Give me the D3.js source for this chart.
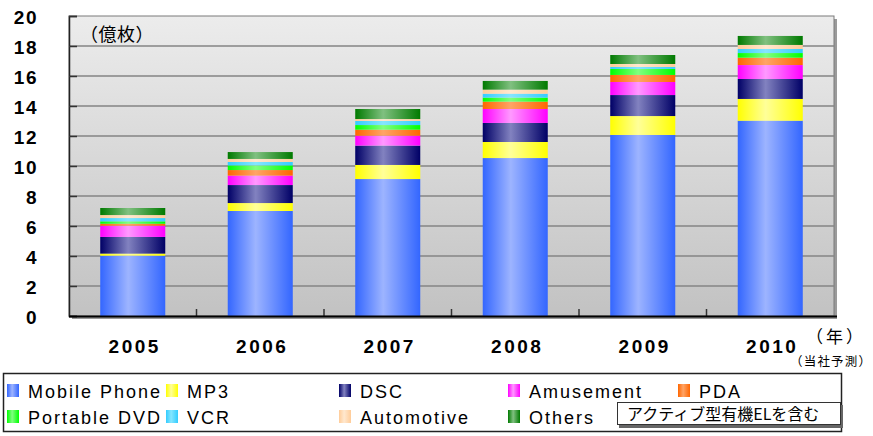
<!DOCTYPE html>
<meta charset="utf-8">
<script src="https://cdn.jsdelivr.net/npm/d3@7"></script>
<style>
    body { margin: 0; background: #fff; }
    text { font-family: "Liberation Sans", Arial, "Noto Sans CJK JP", sans-serif; }
    .jp { font-family: "Noto Sans CJK JP", sans-serif; }
</style>
<div id="chart"></div>
<script>
    // values (億枚)
    var years = ["2005", "2006", "2007", "2008", "2009", "2010"];
    var seriesNames = ["Mobile Phone", "MP3", "DSC", "Amusement", "PDA", "Portable DVD", "VCR", "Automotive", "Others"];
    var mobilePhone = [4.02, 7.0, 9.13, 10.53, 12.07, 13.02];
    var mp3 = [0.14, 0.53, 0.94, 1.07, 1.26, 1.45];
    var dsc = [1.11, 1.2, 1.29, 1.27, 1.4, 1.33];
    var amusement = [0.75, 0.63, 0.66, 0.93, 0.87, 0.93];
    var pda = [0.13, 0.37, 0.4, 0.49, 0.47, 0.49];
    var portableDvd = [0.16, 0.31, 0.31, 0.27, 0.4, 0.31];
    var vcr = [0.22, 0.23, 0.27, 0.26, 0.13, 0.27];
    var automotive = [0.2, 0.2, 0.13, 0.27, 0.2, 0.27];
    var others = [0.47, 0.46, 0.67, 0.58, 0.6, 0.6];
    var yTicks = [0, 2, 4, 6, 8, 10, 12, 14, 16, 18, 20];

    var seriesValues = [mobilePhone, mp3, dsc, amusement, pda, portableDvd, vcr, automotive, others];
    // edge colour, centre colour
    var colors = [
        ["#3366ff", "#9db4ff"], ["#ffff00", "#ffff99"], ["#000066", "#8282c0"],
        ["#ff00ff", "#ff99ff"], ["#ff6600", "#ffa466"], ["#00ff00", "#80ff80"],
        ["#33ccff", "#85e6ff"], ["#ffcc99", "#ffe8cf"], ["#007a00", "#80c080"]
    ];

    var rows = years.map(function(yr, i) {
        var r = { year: yr };
        seriesNames.forEach(function(s, j) { r[s] = seriesValues[j][i]; });
        return r;
    });

    var W = 873, H = 436;
    var plotLeft = 69, plotRight = 834, plotTop = 16, plotBottom = 316;

    var svg = d3.select("#chart").append("svg")
        .attr("width", W).attr("height", H);

    var defs = svg.append("defs");
    var bg = defs.append("linearGradient").attr("id", "bg")
        .attr("x1", 0).attr("y1", 0).attr("x2", 0).attr("y2", 1);
    bg.append("stop").attr("offset", 0).attr("stop-color", "#ececec");
    bg.append("stop").attr("offset", 1).attr("stop-color", "#c2c2c2");

    colors.forEach(function(c, i) {
        var g = defs.append("linearGradient").attr("id", "g" + i)
            .attr("x1", 0).attr("y1", 0).attr("x2", 1).attr("y2", 0);
        g.append("stop").attr("offset", 0).attr("stop-color", c[0]);
        g.append("stop").attr("offset", 0.43).attr("stop-color", c[1]);
        g.append("stop").attr("offset", 1).attr("stop-color", c[0]);
    });

    var x = d3.scaleBand().domain(years).range([plotLeft, plotRight])
        .paddingInner(0.49).paddingOuter(0.245);
    var y = d3.scaleLinear().domain([0, 20]).range([plotBottom, plotTop]);

    // plot area with shadow
    svg.append("rect").attr("x", plotLeft + 3).attr("y", plotTop + 3)
        .attr("width", plotRight - plotLeft).attr("height", plotBottom - plotTop)
        .attr("fill", "#9a9a9a");
    svg.append("rect").attr("x", plotLeft).attr("y", plotTop)
        .attr("width", plotRight - plotLeft).attr("height", plotBottom - plotTop)
        .attr("fill", "url(#bg)").attr("stroke", "#7a7a7a").attr("stroke-width", 1);

    // gridlines
    svg.append("g").selectAll("line")
        .data(yTicks.filter(function(d) { return d > 0 && d < 20; }))
        .enter().append("line")
        .attr("x1", plotLeft).attr("x2", plotRight)
        .attr("y1", function(d) { return y(d); })
        .attr("y2", function(d) { return y(d); })
        .attr("stroke", "#858585").attr("stroke-width", 1.5);

    // y axis
    var yAxis = svg.append("g").attr("transform", "translate(" + plotLeft + ",0)")
        .call(d3.axisLeft(y).tickValues(yTicks).tickSize(-8).tickPadding(31));
    yAxis.select(".domain").attr("stroke", "#222").attr("stroke-width", 1.5);
    yAxis.selectAll(".tick line").attr("stroke", "#333").attr("stroke-width", 1.5);
    yAxis.selectAll("text")
        .attr("font-family", "'Liberation Sans', Arial, sans-serif")
        .attr("font-size", 19).attr("font-weight", "bold")
        .attr("letter-spacing", "1.5px").attr("fill", "#000")
        .attr("dy", "0.38em");

    // stacked bars
    var stack = d3.stack().keys(seriesNames)(rows);
    svg.append("g").selectAll("g")
        .data(stack).enter().append("g")
        .attr("fill", function(d, i) { return "url(#g" + i + ")"; })
        .selectAll("rect")
        .data(function(d) { return d; })
        .enter().append("rect")
        .attr("x", function(d) { return x(d.data.year); })
        .attr("width", x.bandwidth())
        .attr("y", function(d) { return y(d[1]); })
        .attr("height", function(d) { return y(d[0]) - y(d[1]); });

    // baseline and category separators
    var step = x.step();
    svg.append("g").selectAll("line")
        .data(years.slice(1))
        .enter().append("line")
        .attr("x1", function(d) { return x(d) - (step - x.bandwidth()) / 2; })
        .attr("x2", function(d) { return x(d) - (step - x.bandwidth()) / 2; })
        .attr("y1", plotBottom).attr("y2", plotBottom - 7)
        .attr("stroke", "#333").attr("stroke-width", 1.5);
    svg.append("line").attr("x1", plotLeft).attr("x2", plotRight + 3)
        .attr("y1", plotBottom + 0.5).attr("y2", plotBottom + 0.5)
        .attr("stroke", "#000").attr("stroke-width", 2);

    // x labels
    svg.append("g").selectAll("text")
        .data(years).enter().append("text")
        .attr("x", function(d) { return x(d) + x.bandwidth() / 2 + 2; })
        .attr("y", 353)
        .attr("text-anchor", "middle")
        .attr("font-size", 19).attr("font-weight", "bold")
        .attr("letter-spacing", "2.5px")
        .text(function(d) { return d; });

    svg.append("text").attr("class", "jp").attr("x", 80).attr("y", 41)
        .attr("font-size", 18).attr("letter-spacing", "0.5px").text("（億枚）");
    svg.append("text").attr("class", "jp").attr("x", 806).attr("y", 343)
        .attr("font-size", 17).attr("letter-spacing", "3px").text("（年）");
    svg.append("text").attr("class", "jp").attr("x", 790).attr("y", 366)
        .attr("font-size", 12.5).attr("letter-spacing", "1.2px").text("（当社予測）");

    // legend
    svg.append("rect").attr("x", 3.5).attr("y", 373.5)
        .attr("width", 838).attr("height", 58)
        .attr("fill", "#fff").attr("stroke", "#222").attr("stroke-width", 1.5);

    var colX = [7, 166, 339, 508, 678];
    var legendPos = [[0, 0], [1, 0], [2, 0], [3, 0], [4, 0], [0, 1], [1, 1], [2, 1], [3, 1]];
    var leg = svg.append("g").selectAll("g")
        .data(seriesNames).enter().append("g")
        .attr("transform", function(d, i) {
            return "translate(" + colX[legendPos[i][0]] + "," + (391 + legendPos[i][1] * 26) + ")";
        });
    leg.append("rect").attr("x", 0).attr("y", -7)
        .attr("width", 12).attr("height", 13)
        .attr("fill", function(d, i) { return "url(#g" + i + ")"; });
    leg.append("text").attr("x", 21).attr("y", 7)
        .attr("font-size", 18).attr("letter-spacing", "2px")
        .text(function(d) { return d; });

    // note box
    svg.append("rect").attr("x", 619).attr("y", 405)
        .attr("width", 224).attr("height", 23).attr("fill", "#666");
    svg.append("rect").attr("x", 617.5).attr("y", 402.5)
        .attr("width", 223).attr("height", 22)
        .attr("fill", "#fff").attr("stroke", "#333").attr("stroke-width", 1);
    svg.append("text").attr("class", "jp").attr("x", 627).attr("y", 419.5)
        .attr("font-size", 16).text("アクティブ型有機ELを含む");
</script>
